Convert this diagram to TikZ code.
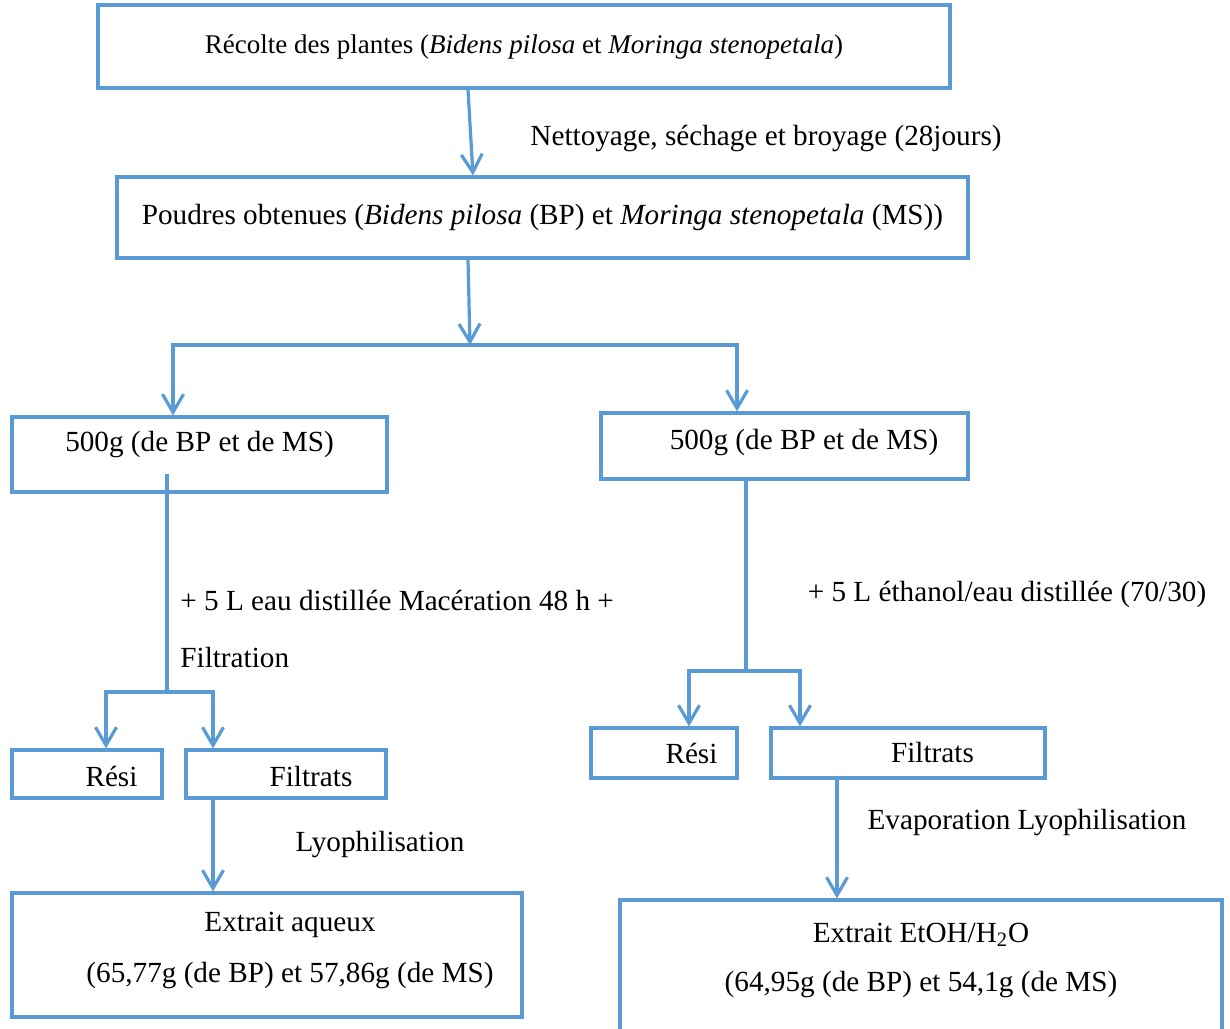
\documentclass[tikz,border=0pt]{standalone}
\usepackage{fontspec}
\setmainfont{Liberation Serif}
\usetikzlibrary{arrows.meta, positioning}
\definecolor{flowblue}{RGB}{91,155,213}

\begin{document}
\begin{tikzpicture}[
    x=0.5pt, y=-0.5pt,
    font=\fontsize{14.6}{17.5}\selectfont,
    box/.style={rectangle, draw=flowblue, line width=1.6pt, inner sep=0pt},
    arrow/.style={-{Straight Barb[length=9pt, width=10.5pt]}, draw=flowblue, line width=1.6pt},
    link/.style={draw=flowblue, line width=1.6pt},
    note/.style={inner sep=0pt}
]
\useasboundingbox (0,0) rectangle (1230,1028);

\node[box, minimum width=426pt, minimum height=41.5pt, font=\fontsize{13.5}{16}\selectfont] (recolte) at (524,46.5) {Récolte des plantes (\textit{Bidens pilosa} et \textit{Moringa stenopetala})};
\node[box, minimum width=425.5pt, minimum height=40.5pt] (poudres) at (542.5,217.5) {Poudres obtenues (\textit{Bidens pilosa} (BP) et \textit{Moringa stenopetala} (MS))};
\node[note] (nettoyage) at (766,138) {Nettoyage, séchage et broyage (28jours)};

\node[box, minimum width=187.5pt, minimum height=37.5pt, label={[yshift=4.75pt]center:{500g (de BP et de MS)}}] (massL) at (199.5,454.5) {};
\node[box, minimum width=183.5pt, minimum height=33pt, label={[xshift=9.75pt, yshift=1.5pt]center:{500g (de BP et de MS)}}] (massR) at (784.5,446) {};

\node[note, anchor=west, align=left, font=\fontsize{14.6}{28.5}\selectfont] (eau) at (180,628.5) {+ 5 L eau distillée Macération 48 h +\\Filtration};
\node[note] (ethanol) at (1007,594) {+ 5 L éthanol/eau distillée (70/30)};

\node[box, minimum width=75pt, minimum height=24pt, label={[xshift=12.25pt, yshift=-1pt]center:{Rési}}] (resL) at (87,774) {};
\node[box, minimum width=100pt, minimum height=24pt, label={[xshift=12.5pt, yshift=-1pt]center:{Filtrats}}] (filtL) at (286,774) {};
\node[note] (lyoL) at (380,845) {Lyophilisation};
\node[box, minimum width=255pt, minimum height=62pt, label={[xshift=11.5pt, yshift=2.25pt, align=center, font=\fontsize{14.6}{25.5}\selectfont]center:{Extrait aqueux\\(65,77g (de BP) et 57,86g (de MS)}}] (extL) at (267,955) {};

\node[box, minimum width=73pt, minimum height=25pt, label={[xshift=13.75pt]center:{Rési}}] (resR) at (664,753) {};
\node[box, minimum width=137pt, minimum height=25pt, label={[xshift=12.25pt]center:{Filtrats}}] (filtR) at (908,753) {};
\node[note] (evap) at (1027,823) {Evaporation Lyophilisation};
\node[box, minimum width=301pt, minimum height=70pt, label={[yshift=4.75pt, align=center, font=\fontsize{14.6}{24.5}\selectfont]center:{Extrait EtOH/H\textsubscript{2}O\\(64,95g (de BP) et 54,1g (de MS)}}] (extR) at (921,970) {};

% tronc commun
\draw[arrow] ([xshift=-28pt]recolte.south) -- ([xshift=-34.75pt]poudres.north);
\coordinate (split) at (470,345);
\draw[arrow] ([xshift=-37.25pt]poudres.south) -- (split);
\draw[arrow] (split) -| ([xshift=-13.25pt]massL.north);
\draw[arrow] (split) -| ([xshift=-23.75pt]massR.north);

% extraction aqueuse
\coordinate (splitL) at (167,692);
\draw[link] ([xshift=-16.25pt, yshift=10pt]massL.south) -- (splitL);
\draw[arrow] (splitL) -| ([xshift=9.5pt]resL.north);
\draw[arrow] (splitL) -| ([xshift=-36.5pt]filtL.north);
\draw[arrow] ([xshift=-36.5pt]filtL.south) -- ([xshift=-27pt]extL.north);

% extraction hydro-ethanolique
\coordinate (splitR) at (746,671);
\draw[link] ([xshift=-19.25pt]massR.south) -- (splitR);
\draw[arrow] (splitR) -| ([xshift=12.5pt]resR.north);
\draw[arrow] (splitR) -| ([xshift=-54pt]filtR.north);
\draw[arrow] ([xshift=-35.5pt]filtR.south) -- ([xshift=-42pt]extR.north);
\end{tikzpicture}
\end{document}
